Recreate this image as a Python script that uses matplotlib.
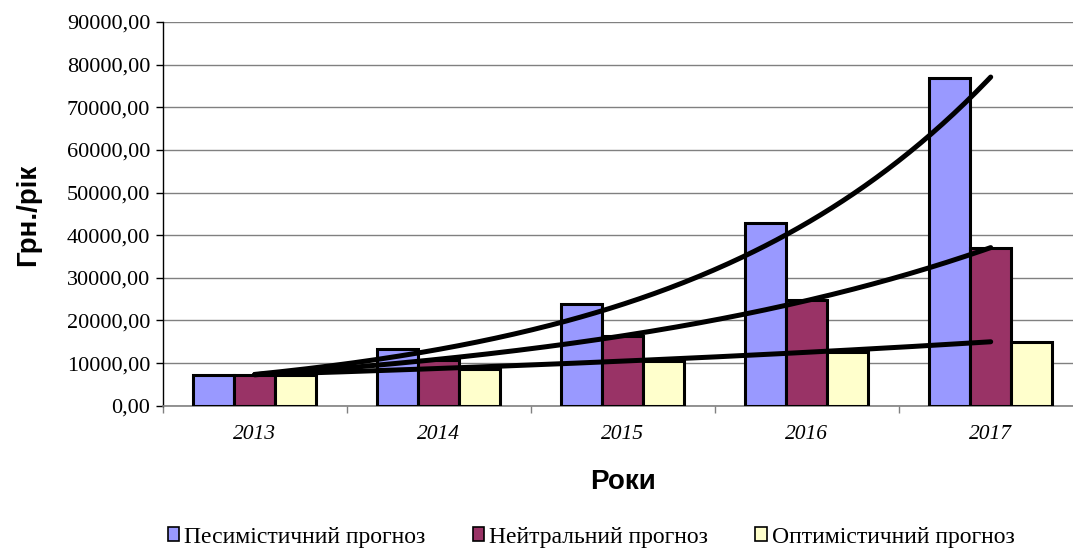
import numpy as np
import matplotlib
matplotlib.use("Agg")
import matplotlib.pyplot as plt

years = ["2013", "2014", "2015", "2016", "2017"]
pessimistic = [7300, 13300, 23800, 42850, 76900]
neutral = [7300, 10800, 16300, 24900, 37000]
optimistic = [7300, 8700, 10500, 12500, 15000]
series_names = ["Песимістичний прогноз", "Нейтральний прогноз", "Оптимістичний прогноз"]
colors = ["#9999FF", "#993366", "#FFFFCC"]
yticks = list(range(0, 90001, 10000))

fig = plt.figure(figsize=(10.73, 5.48), dpi=100)
ax = fig.add_axes([162.7 / 1073, 1 - 405.7 / 548, (1082.7 - 162.7) / 1073, (405.7 - 22) / 548])

x = np.arange(len(years))
w = 1 / 4.5
for i, (vals, name, c) in enumerate(zip([pessimistic, neutral, optimistic], series_names, colors)):
    ax.bar(x + (i - 1) * w, vals, width=w, color=c, edgecolor="black", linewidth=2.2,
           label=name, zorder=3)

# exponential trendlines
xs = np.linspace(0, len(years) - 1, 200)
for vals in [pessimistic, neutral, optimistic]:
    b, a = np.polyfit(x, np.log(vals), 1)
    ax.plot(xs, np.exp(a + b * xs), color="black", linewidth=3.6, solid_capstyle="round", zorder=4)

ax.set_xlim(-0.5, len(years) - 0.5)
ax.set_ylim(0, 90000)
ax.set_yticks(yticks)
ax.set_yticklabels([f"{v},00" for v in yticks], fontfamily="Liberation Serif", fontsize=16)
ax.set_xticks(x)
ax.set_xticklabels(years, fontfamily="Liberation Serif", fontstyle="italic", fontsize=15.5)
ax.set_xticks(np.arange(-0.5, len(years)), minor=True)
ax.tick_params(axis="x", which="major", length=0, pad=14)
ax.tick_params(axis="x", which="minor", length=5, width=1, color="#808080", direction="out")
ax.tick_params(axis="y", length=5, width=1, direction="out", pad=4)

ax.grid(axis="y", color="#808080", linewidth=1.0, zorder=0)
ax.set_axisbelow(True)
for s in ["top", "right"]:
    ax.spines[s].set_visible(False)
ax.spines["left"].set_color("black")
ax.spines["left"].set_linewidth(1.0)
ax.spines["bottom"].set_color("#808080")
ax.spines["bottom"].set_linewidth(1.2)

fig.text(28 / 1073, 1 - 215 / 548, "Грн./рік", rotation=90, ha="center", va="center",
         fontfamily="Liberation Sans", fontweight="bold", fontsize=20)
fig.text(623 / 1073, 1 - 482 / 548, "Роки", ha="center", va="center",
         fontfamily="Liberation Sans", fontweight="bold", fontsize=20)

leg = fig.legend(loc="center", bbox_to_anchor=(591 / 1073, 1 - 537 / 548), ncol=3, frameon=False,
                 prop={"family": "Liberation Serif", "size": 17},
                 handlelength=0.5, handleheight=0.5, handletextpad=0.2, columnspacing=2.0)
for h in leg.legend_handles:
    h.set_linewidth(1.2)

fig.savefig("out.png", dpi=100)
